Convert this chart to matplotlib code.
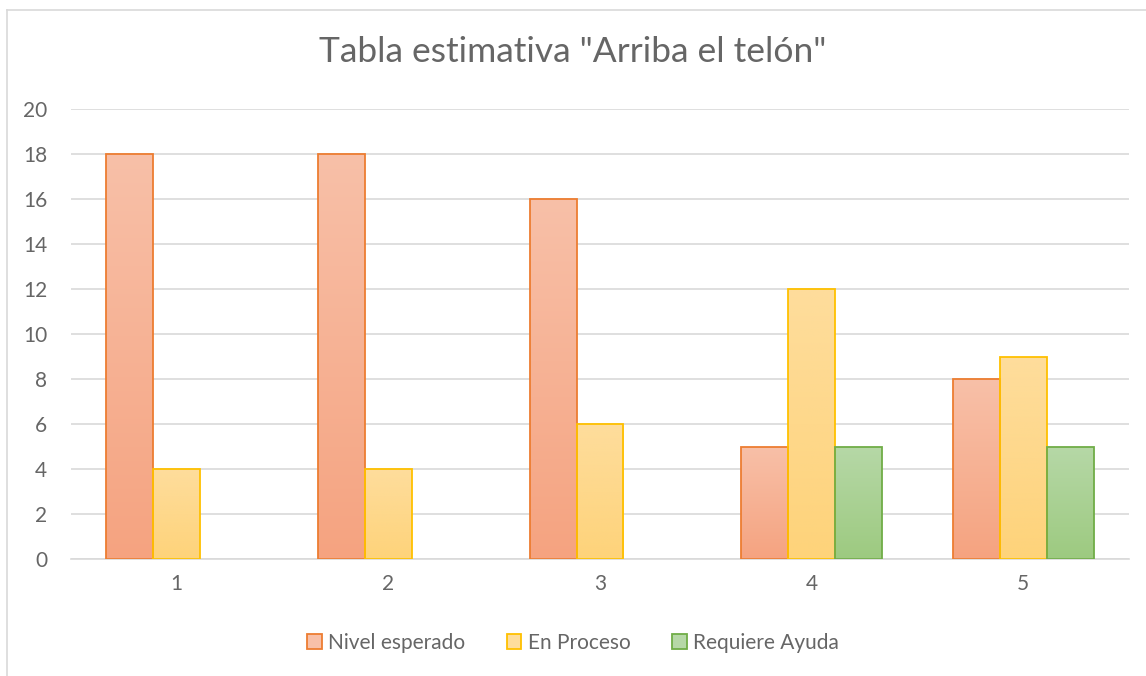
import numpy as np
import matplotlib.pyplot as plt
import matplotlib.colors as mcolors
from matplotlib.patches import Patch
from matplotlib.lines import Line2D

# datos
categorias = ["1", "2", "3", "4", "5"]
nivel_esperado = [18, 18, 16, 5, 8]
en_proceso = [4, 4, 6, 12, 9]
requiere_ayuda = [0, 0, 0, 5, 5]
series_nombres = ["Nivel esperado", "En Proceso", "Requiere Ayuda"]
titulo = 'Tabla estimativa "Arriba el telón"'

# colores: (arriba, abajo, borde)
estilos = [
    ("#F8C0A8", "#F5A380", "#ED7D31"),
    ("#FEDD9C", "#FED37A", "#FFC000"),
    ("#B6D8A7", "#9DCA80", "#70AD47"),
]

plt.rcParams['font.family'] = ['Lato', 'DejaVu Sans']
texto_gris = "#666666"

fig = plt.figure(figsize=(11.46, 6.76), dpi=100)
ax = fig.add_axes([71 / 1146, 1 - 559 / 676, (1129 - 71) / 1146, (559 - 109) / 676])

x = np.arange(len(categorias))
ancho = 0.222
valores = [nivel_esperado, en_proceso, requiere_ayuda]

for k, (vals, (c_top, c_bot, c_edge)) in enumerate(zip(valores, estilos)):
    offset = (k - 1) * ancho
    barras = ax.bar(x + offset, vals, ancho, facecolor="none", edgecolor=c_edge,
                    linewidth=1.3, zorder=3)
    cmap = mcolors.LinearSegmentedColormap.from_list("g%d" % k, [c_bot, c_top])
    grad = np.linspace(0, 1, 256).reshape(-1, 1)
    for b in barras:
        h = b.get_height()
        if h <= 0:
            b.set_visible(False)
            continue
        x0 = b.get_x()
        w = b.get_width()
        im = ax.imshow(grad, cmap=cmap, aspect="auto", origin="lower",
                       extent=[x0, x0 + w, 0, h], zorder=2)
        im.set_clip_path(b)

ax.set_xlim(-0.5, len(categorias) - 0.5)
ax.set_ylim(0, 20)
ax.set_yticks(np.arange(0, 21, 2))
ax.set_xticks(x)
ax.set_xticklabels(categorias)
ax.grid(axis="y", color="#D9D9D9", linewidth=1.2, zorder=0)
ax.set_axisbelow(True)
for s in ["top", "right", "left"]:
    ax.spines[s].set_visible(False)
ax.spines["bottom"].set_color("#D9D9D9")
ax.spines["bottom"].set_linewidth(1.2)
ax.tick_params(axis="both", length=0, labelsize=15, colors=texto_gris)
ax.tick_params(axis="x", pad=11)
ax.tick_params(axis="y", pad=17)

fig.text(0.5, 1 - 52 / 676, titulo, ha="center", va="center", fontsize=25.5, color=texto_gris)

handles = [Patch(facecolor=c_top, edgecolor=c_edge, linewidth=1.3) for c_top, c_bot, c_edge in estilos]
fig.legend(handles, series_nombres, loc="center", bbox_to_anchor=(0.5, 1 - 643 / 676),
           ncol=3, frameon=False, fontsize=15, labelcolor=texto_gris,
           handlelength=0.7, handleheight=0.7, handletextpad=0.3, columnspacing=2.0)

# borde del área del gráfico
fig.add_artist(Line2D([6.5 / 1146, 6.5 / 1146], [0, 1 - 9.5 / 676], color="#D9D9D9", linewidth=1.2))
fig.add_artist(Line2D([6.5 / 1146, 1], [1 - 9.5 / 676, 1 - 9.5 / 676], color="#D9D9D9", linewidth=1.2))

fig.savefig("out.png", dpi=100)
